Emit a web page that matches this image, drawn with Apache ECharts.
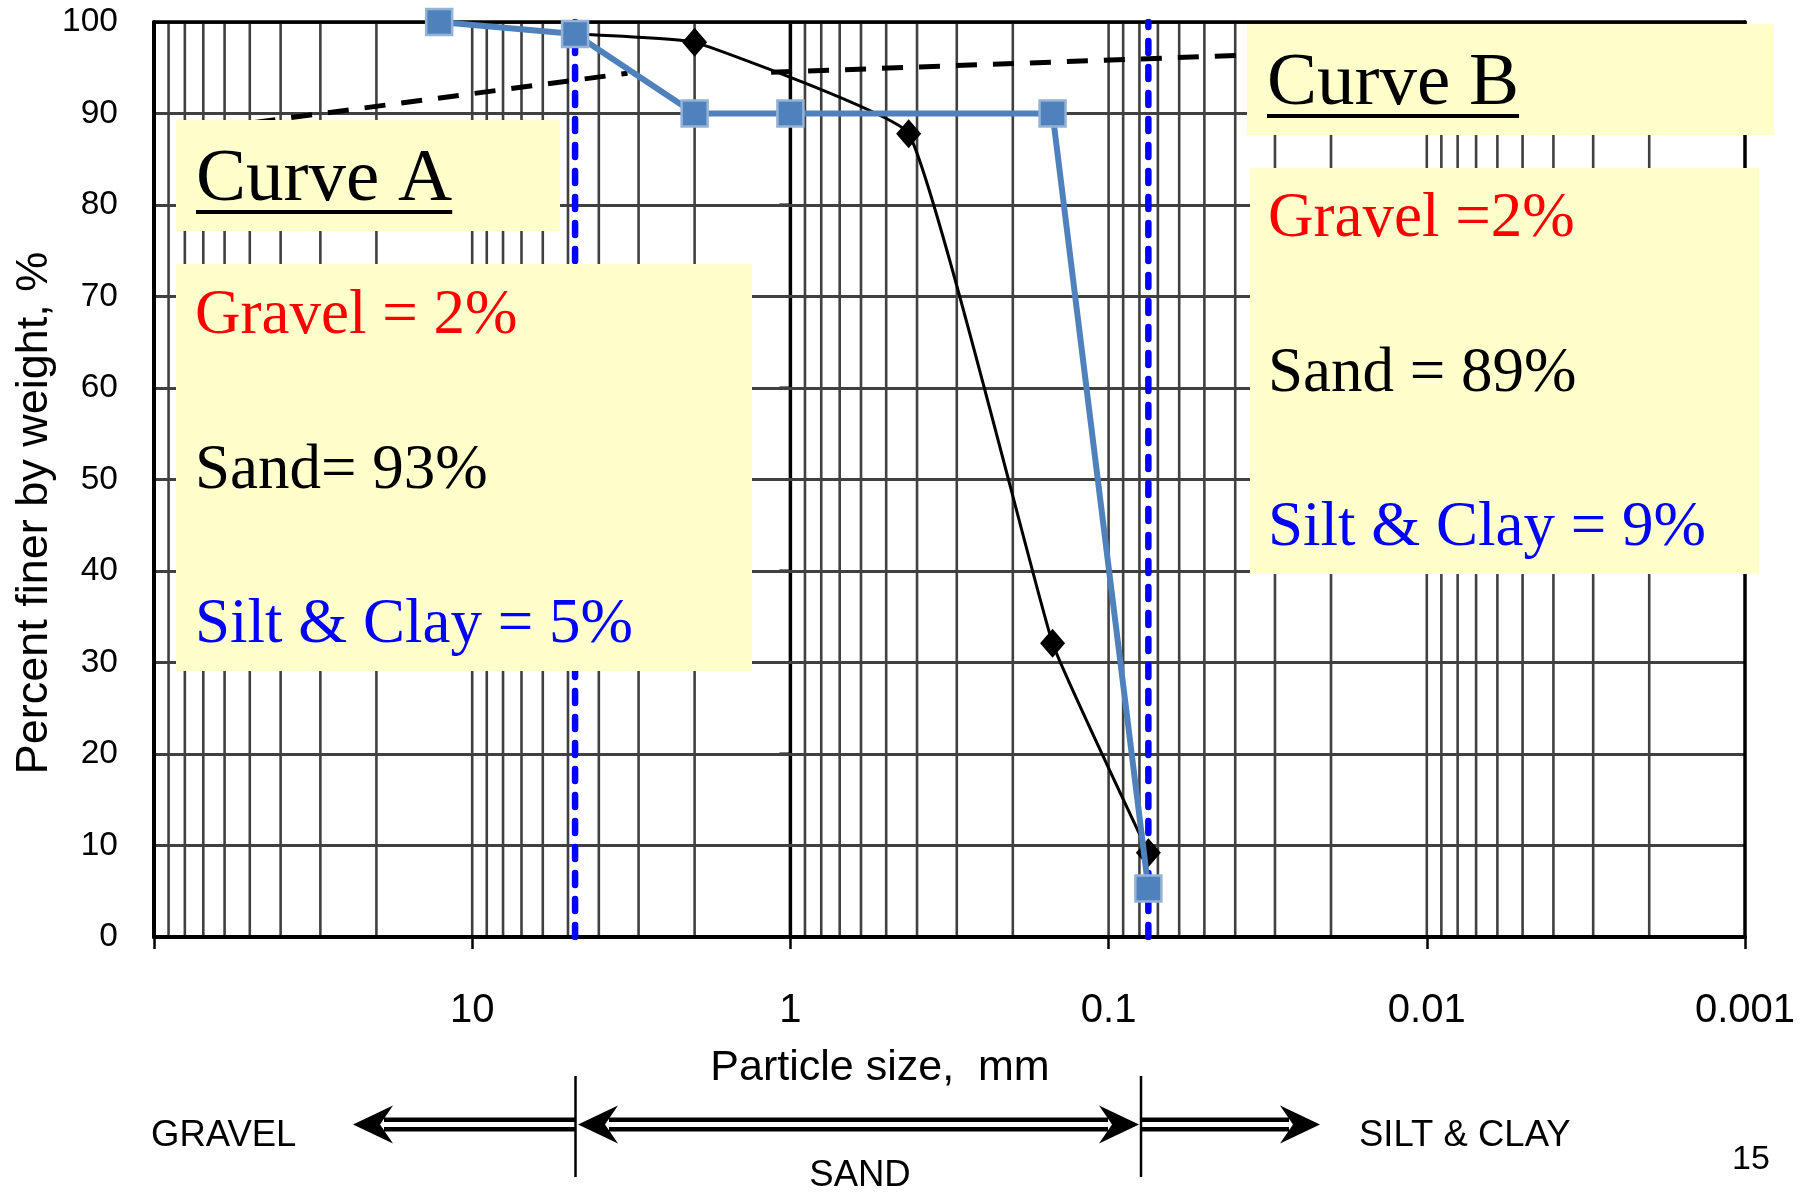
<!DOCTYPE html>
<html>
<head>
<meta charset="utf-8">
<title>Particle size distribution</title>
<script src="https://cdn.jsdelivr.net/npm/echarts@6.0.0/dist/echarts.min.js"></script>
<style>
  html, body { margin: 0; padding: 0; background: #fff; }
  #chart { width: 1818px; height: 1192px; }
</style>
</head>
<body>
<div id="chart"></div>
<script>
// curve A (blue squares): particle size in mm, percent finer
const sizesA = [12.7, 4.75, 2.0, 1.0, 0.15, 0.075];
const finerA = [100, 98.7, 90, 90, 90, 5.3];
// curve B (black diamonds)
const sizesB = [4.75, 2.0, 0.425, 0.15, 0.075];
const finerB = [98.7, 97.8, 87.8, 32.1, 9.2];
// dashed black line, drawn in two pieces (ends hidden under the boxes)
const dashSizes1 = [63, 3.25];
const dashFiner1 = [88.5, 94.4];
const dashSizes2 = [1.15, 0.025];
const dashFiner2 = [94.5, 96.6];
// gravel / sand and sand / fines limits (blue dashed)
const limitSizes = [4.75, 0.075];
const xTickLabels = ['10', '1', '0.1', '0.01', '0.001'];
const decades = [0.001, 0.01, 0.1, 1, 10];
const yTicks = [10, 20, 30, 40, 50, 60, 70, 80, 90];
const boxALines = ['Gravel = 2%', 'Sand= 93%', 'Silt & Clay = 5%'];
const boxBLines = ['Gravel =2%', 'Sand = 89%', 'Silt & Clay = 9%'];
const lineColors = ['#FF0000', '#000000', '#0000FF'];

const SANS = '"Liberation Sans", Arial, sans-serif';
const SERIF = '"Liberation Serif", "Times New Roman", serif';

function pairs(xs, ys) { return xs.map((x, i) => [x, ys[i]]); }

// log grid lines 1..9 in every decade (the right edge is the frame)
const gridSizes = [];
decades.forEach(d => {
  for (let k = 1; k <= 9; k++) {
    const v = +(d * k).toPrecision(2);
    if (v > 0.001) gridSizes.push(v);
  }
});

function textWidth(str, font) {
  const c = document.createElement('canvas').getContext('2d');
  c.font = font;
  return c.measureText(str).width;
}

function txt(text, x, y, font, fill, align, extra) {
  return Object.assign({
    type: 'text', x: x, y: y, z: 5, z2: 2, silent: true,
    style: {
      text: text, x: 0, y: 0, font: font, fill: fill,
      align: align || 'left', verticalAlign: 'middle',
      textAlign: align || 'left', textVerticalAlign: 'middle'
    }
  }, extra || {});
}
function box(x, y, w, h) {
  return { type: 'rect', z: 5, z2: 0, silent: true,
    shape: { x: x, y: y, width: w, height: h }, style: { fill: '#FFFFCC' } };
}
function hline(x1, x2, y, w) {
  return { type: 'line', z: 5, z2: 1, silent: true,
    shape: { x1: x1, y1: y, x2: x2, y2: y }, style: { stroke: '#000', lineWidth: w } };
}
function vline(x, y1, y2, w) {
  return { type: 'line', z: 5, z2: 1, silent: true,
    shape: { x1: x, y1: y1, x2: x, y2: y2 }, style: { stroke: '#000', lineWidth: w } };
}
// filled arrow head, dir -1 points left, +1 points right
function head(tipX, y, dir) {
  const L = 40, H = 19, N = 27;
  return { type: 'polygon', z: 5, z2: 1, silent: true,
    shape: { points: [[tipX, y], [tipX - dir * L, y - H], [tipX - dir * N, y], [tipX - dir * L, y + H]] },
    style: { fill: '#000' } };
}
function shaft(x1, x2, y) {
  return [hline(x1, x2, y - 4.8, 4.5), hline(x1, x2, y + 4.8, 4.5)];
}

const titleFont = '75px ' + SERIF;
const bodyFont = '63px ' + SERIF;
const wA = textWidth('Curve A', titleFont);
const wB = textWidth('Curve B', titleFont);

const arrowY = 1124.5;
const graphics = [
  // curve A boxes
  box(176, 120, 384, 111),
  txt('Curve A', 196, 180, titleFont, '#000'),
  { type: 'rect', z: 5, z2: 1, silent: true, shape: { x: 196, y: 210, width: wA, height: 4 }, style: { fill: '#000' } },
  box(176, 264, 576, 407),
  txt(boxALines[0], 195, 316, bodyFont, lineColors[0]),
  txt(boxALines[1], 195, 471, bodyFont, lineColors[1]),
  txt(boxALines[2], 195, 625, bodyFont, lineColors[2]),
  // curve B boxes
  box(1247, 24, 527, 111),
  txt('Curve B', 1267, 84, titleFont, '#000'),
  { type: 'rect', z: 5, z2: 1, silent: true, shape: { x: 1267, y: 114, width: wB, height: 4 }, style: { fill: '#000' } },
  box(1250, 168, 509, 406),
  txt(boxBLines[0], 1268, 219, bodyFont, lineColors[0]),
  txt(boxBLines[1], 1268, 374, bodyFont, lineColors[1]),
  txt(boxBLines[2], 1268, 528, bodyFont, lineColors[2]),
  // axis titles
  txt('Percent finer by weight, %', 35, 513, '45px ' + SANS, '#000', 'center', { rotation: Math.PI / 2 }),
  txt('Particle size,  mm', 880, 1068, '43px ' + SANS, '#000', 'center'),
  // soil classes under the axis
  vline(575.5, 1076, 1177, 2.5),
  vline(1141, 1076, 1177, 2.5),
  head(353, arrowY, -1), ...shaft(384, 575.5, arrowY),
  head(578, arrowY, -1), head(1139, arrowY, 1), ...shaft(609, 1108, arrowY),
  ...shaft(1141, 1289, arrowY), head(1320, arrowY, 1),
  txt('GRAVEL', 151, 1136, '36.5px ' + SANS, '#000'),
  txt('SAND', 860, 1176, '36.5px ' + SANS, '#000', 'center'),
  txt('SILT & CLAY', 1359, 1136, '36.5px ' + SANS, '#000'),
  txt('15', 1751, 1160, '34px ' + SANS, '#000', 'center')
];

const frameLine = { show: true, onZero: false, lineStyle: { color: '#000', width: 3.5 } };

const option = {
  animation: false,
  backgroundColor: '#fff',
  textStyle: { fontFamily: SANS, color: '#000' },
  grid: { left: 154, right: 73, top: 22, bottom: 255, containLabel: false, outerBoundsMode: 'none' },
  xAxis: [{
    type: 'log', logBase: 10, min: 0.001, max: 100, inverse: true, splitNumber: 5, z: 2,
    axisLine: { show: true, onZero: false, lineStyle: { color: '#000', width: 4 } },
    axisTick: { show: true, inside: false, length: 12, lineStyle: { color: '#000', width: 2.5 } },
    axisLabel: {
      show: true, color: '#000', fontFamily: SANS, fontSize: 40, margin: 54,
      showMinLabel: true, showMaxLabel: true,
      formatter: function (v) {
        const i = Math.round(1 - Math.log10(v));
        return xTickLabels[i] || '';
      }
    },
    splitLine: { show: false }, minorTick: { show: false }, minorSplitLine: { show: false }
  }, {
    type: 'log', logBase: 10, min: 0.001, max: 100, inverse: true, position: 'top', z: 2,
    axisLine: frameLine, axisTick: { show: false }, axisLabel: { show: false }, splitLine: { show: false }
  }],
  yAxis: [{
    type: 'value', min: 0, max: 100, interval: 10, z: 2,
    axisLine: { show: true, onZero: false, lineStyle: { color: '#000', width: 4 } },
    axisTick: { show: false },
    axisLabel: { color: '#000', fontFamily: SANS, fontSize: 33.5, margin: 36 },
    splitLine: { show: true, lineStyle: { color: '#404040', width: 2.8 } }
  }, {
    type: 'value', min: 0, max: 100, position: 'right', z: 2,
    axisLine: frameLine, axisTick: { show: false }, axisLabel: { show: false }, splitLine: { show: false }
  }],
  graphic: { elements: graphics },
  series: [
    {
      // vertical log grid; the line at 1 mm is where the value axis crosses
      type: 'custom', name: 'grid', silent: true, z: 1, clip: false,
      data: gridSizes.map(v => [v, 0]),
      encode: { x: 0, y: 1 },
      renderItem: function (params, api) {
        const v = api.value(0);
        const p0 = api.coord([v, 0]);
        const p1 = api.coord([v, 100]);
        if (Math.abs(v - 1) > 1e-9) {
          return { type: 'line', shape: { x1: p0[0], y1: p0[1], x2: p1[0], y2: p1[1] },
            style: { stroke: '#404040', lineWidth: 2.6 } };
        }
        const children = [{ type: 'line', shape: { x1: p0[0], y1: p0[1], x2: p1[0], y2: p1[1] },
          style: { stroke: '#000', lineWidth: 3.5 } }];
        yTicks.forEach(t => {
          const p = api.coord([v, t]);
          children.push({ type: 'line', shape: { x1: p[0] - 11, y1: p[1], x2: p[0], y2: p[1] },
            style: { stroke: '#000', lineWidth: 3 } });
        });
        return { type: 'group', children: children };
      }
    },
    ...limitSizes.map(s => ({
      type: 'line', name: 'limit ' + s, silent: true, z: 3, symbol: 'none',
      data: [[s, 0], [s, 100]],
      lineStyle: { color: '#0000FF', width: 6.5, type: [12, 14], cap: 'round' }
    })),
    {
      type: 'line', name: 'dash1', silent: true, z: 4, symbol: 'none',
      data: pairs(dashSizes1, dashFiner1),
      lineStyle: { color: '#000', width: 5, type: [21, 16] }
    },
    {
      type: 'line', name: 'dash2', silent: true, z: 4, symbol: 'none',
      data: pairs(dashSizes2, dashFiner2),
      lineStyle: { color: '#000', width: 5, type: [21, 16] }
    },
    {
      type: 'line', name: 'Curve B', silent: true, z: 6,
      data: pairs(sizesB, finerB),
      smooth: 0.1,
      symbol: 'diamond', symbolSize: [25, 29], showSymbol: true,
      itemStyle: { color: '#000' },
      lineStyle: { color: '#000', width: 3 }
    },
    {
      type: 'line', name: 'Curve A', silent: true, z: 7,
      data: pairs(sizesA, finerA),
      symbol: 'rect', symbolSize: 26, showSymbol: true,
      itemStyle: { color: '#4F81BD', borderColor: '#95B3D7', borderWidth: 2.5 },
      lineStyle: { color: '#4F81BD', width: 6 }
    }
  ]
};

const chart = echarts.init(document.getElementById('chart'));
chart.setOption(option);
</script>
</body>
</html>
